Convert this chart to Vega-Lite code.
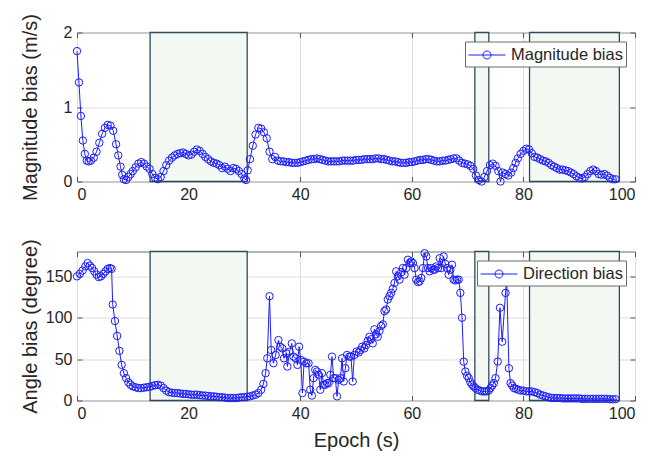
{
  "$schema": "https://vega.github.io/schema/vega-lite/v6.json",
  "background": "white",
  "padding": {"left": 19, "top": 12.5, "right": 5, "bottom": 5},
  "bounds": "flush",
  "spacing": 70,
  "config": {
    "font": "Liberation Sans",
    "view": {"stroke": "#6a6a6a", "strokeWidth": 1},
    "axis": {
      "labelFont": "Liberation Sans", "labelFontSize": 16, "labelColor": "#262626",
      "titleFont": "Liberation Sans", "titleFontSize": 20, "titleFontWeight": "normal", "titleColor": "#262626",
      "domain": false, "ticks": true, "tickSize": -5, "tickColor": "#555555", "tickWidth": 1,
      "labelPadding": 10, "labelOverlap": false,
      "gridColor": "#dedede", "gridWidth": 1
    }
  },
  "datasets": {
    "shade": [{"s": 13.1, "e": 30.5}, {"s": 71.3, "e": 73.8}, {"s": 81.1, "e": 97.2}],
    "mag": [
      {"t":0,"v":1.75},{"t":0.35,"v":1.33},{"t":0.7,"v":0.88},{"t":1.05,"v":0.55},{"t":1.4,"v":0.37},{"t":1.75,"v":0.28},
      {"t":2.1,"v":0.27},{"t":2.5,"v":0.28},{"t":3.0,"v":0.32},{"t":3.5,"v":0.40},{"t":4.0,"v":0.52},{"t":4.5,"v":0.64},
      {"t":5.0,"v":0.72},{"t":5.5,"v":0.76},{"t":6.0,"v":0.75},{"t":6.5,"v":0.68},{"t":7.0,"v":0.50},{"t":7.4,"v":0.35},
      {"t":7.8,"v":0.20},{"t":8.1,"v":0.09},{"t":8.4,"v":0.03},{"t":8.8,"v":0.02},{"t":9.2,"v":0.06},{"t":9.6,"v":0.10},
      {"t":10.0,"v":0.14},{"t":10.5,"v":0.19},{"t":11.0,"v":0.24},{"t":11.5,"v":0.26},{"t":12.0,"v":0.24},{"t":12.5,"v":0.20},
      {"t":13.0,"v":0.17},{"t":13.5,"v":0.10},{"t":14.0,"v":0.05},{"t":14.5,"v":0.03},{"t":15.0,"v":0.06},{"t":15.5,"v":0.14},
      {"t":16.0,"v":0.22},{"t":16.5,"v":0.28},{"t":17.0,"v":0.32},{"t":17.5,"v":0.35},{"t":18.0,"v":0.37},{"t":18.5,"v":0.38},
      {"t":19.0,"v":0.39},{"t":19.5,"v":0.37},{"t":20.0,"v":0.35},{"t":20.5,"v":0.36},{"t":21.0,"v":0.40},{"t":21.5,"v":0.43},
      {"t":22.0,"v":0.41},{"t":22.5,"v":0.37},{"t":23.0,"v":0.33},{"t":23.5,"v":0.30},{"t":24.0,"v":0.27},{"t":24.5,"v":0.25},
      {"t":25.0,"v":0.24},{"t":25.5,"v":0.22},{"t":26.0,"v":0.18},{"t":26.5,"v":0.20},{"t":27.0,"v":0.17},{"t":27.5,"v":0.14},
      {"t":28.0,"v":0.18},{"t":28.5,"v":0.17},{"t":29.0,"v":0.14},{"t":29.5,"v":0.10},{"t":30.0,"v":0.04},{"t":30.3,"v":0.02},
      {"t":30.6,"v":0.15},{"t":31.0,"v":0.30},{"t":31.5,"v":0.48},{"t":32.0,"v":0.63},{"t":32.5,"v":0.72},{"t":33.0,"v":0.71},
      {"t":33.5,"v":0.66},{"t":34.0,"v":0.58},{"t":34.5,"v":0.40},{"t":35.0,"v":0.30},{"t":35.5,"v":0.33},{"t":36.0,"v":0.28},
      {"t":36.5,"v":0.27},{"t":37.0,"v":0.27},{"t":37.5,"v":0.26},{"t":38.0,"v":0.26},{"t":38.5,"v":0.25},{"t":39.0,"v":0.25},
      {"t":39.5,"v":0.25},{"t":40.0,"v":0.26},{"t":40.5,"v":0.27},{"t":41.0,"v":0.28},{"t":41.5,"v":0.29},{"t":42.0,"v":0.30},
      {"t":42.5,"v":0.30},{"t":43.0,"v":0.31},{"t":43.5,"v":0.30},{"t":44.0,"v":0.29},{"t":44.5,"v":0.28},{"t":45.0,"v":0.27},
      {"t":45.5,"v":0.27},{"t":46.0,"v":0.27},{"t":46.5,"v":0.27},{"t":47.0,"v":0.27},{"t":47.5,"v":0.28},{"t":48.0,"v":0.28},
      {"t":48.5,"v":0.28},{"t":49.0,"v":0.28},{"t":49.5,"v":0.28},{"t":50.0,"v":0.29},{"t":50.5,"v":0.29},{"t":51.0,"v":0.29},
      {"t":51.5,"v":0.30},{"t":52.0,"v":0.30},{"t":52.5,"v":0.30},{"t":53.0,"v":0.30},{"t":53.5,"v":0.31},{"t":54.0,"v":0.31},
      {"t":54.5,"v":0.30},{"t":55.0,"v":0.30},{"t":55.5,"v":0.29},{"t":56.0,"v":0.28},{"t":56.5,"v":0.27},{"t":57.0,"v":0.27},
      {"t":57.5,"v":0.26},{"t":58.0,"v":0.25},{"t":58.5,"v":0.25},{"t":59.0,"v":0.25},{"t":59.5,"v":0.26},{"t":60.0,"v":0.26},
      {"t":60.5,"v":0.27},{"t":61.0,"v":0.28},{"t":61.5,"v":0.29},{"t":62.0,"v":0.29},{"t":62.5,"v":0.30},{"t":63.0,"v":0.30},
      {"t":63.5,"v":0.29},{"t":64.0,"v":0.28},{"t":64.5,"v":0.27},{"t":65.0,"v":0.27},{"t":65.5,"v":0.28},{"t":66.0,"v":0.28},
      {"t":66.5,"v":0.29},{"t":67.0,"v":0.30},{"t":67.5,"v":0.31},{"t":68.0,"v":0.31},{"t":68.5,"v":0.28},{"t":69.0,"v":0.25},
      {"t":69.5,"v":0.24},{"t":70.0,"v":0.23},{"t":70.5,"v":0.21},{"t":71.0,"v":0.17},{"t":71.5,"v":0.08},{"t":72.0,"v":0.02},
      {"t":72.5,"v":0.0},{"t":73.0,"v":0.06},{"t":73.5,"v":0.14},{"t":74.0,"v":0.22},{"t":74.5,"v":0.24},{"t":75.0,"v":0.21},
      {"t":75.5,"v":0.14},{"t":75.9,"v":0.0},{"t":76.3,"v":0.12},{"t":76.8,"v":0.10},{"t":77.3,"v":0.08},{"t":77.8,"v":0.12},
      {"t":78.2,"v":0.18},{"t":78.6,"v":0.25},{"t":79.0,"v":0.31},{"t":79.5,"v":0.37},{"t":80.0,"v":0.41},{"t":80.5,"v":0.44},
      {"t":81.0,"v":0.43},{"t":81.5,"v":0.38},{"t":82.0,"v":0.33},{"t":82.5,"v":0.32},{"t":83.0,"v":0.30},{"t":83.5,"v":0.28},
      {"t":84.0,"v":0.27},{"t":84.5,"v":0.25},{"t":85.0,"v":0.22},{"t":85.5,"v":0.20},{"t":86.0,"v":0.18},{"t":86.5,"v":0.16},
      {"t":87.0,"v":0.16},{"t":87.5,"v":0.15},{"t":88.0,"v":0.14},{"t":88.5,"v":0.12},{"t":89.0,"v":0.10},{"t":89.5,"v":0.07},
      {"t":90.0,"v":0.05},{"t":90.5,"v":0.04},{"t":91.0,"v":0.06},{"t":91.5,"v":0.10},{"t":92.0,"v":0.14},{"t":92.5,"v":0.16},
      {"t":93.0,"v":0.14},{"t":93.5,"v":0.10},{"t":94.0,"v":0.09},{"t":94.5,"v":0.10},{"t":95.0,"v":0.08},{"t":95.5,"v":0.05},
      {"t":96.0,"v":0.03},{"t":96.5,"v":0.03}
    ],
    "ang": [
      {"t":0,"v":150},{"t":0.5,"v":153},{"t":1.0,"v":157},{"t":1.5,"v":162},{"t":1.9,"v":166},{"t":2.3,"v":163},
      {"t":2.7,"v":160},{"t":3.1,"v":156},{"t":3.5,"v":152},{"t":3.9,"v":149},{"t":4.3,"v":150},{"t":4.7,"v":153},
      {"t":5.1,"v":156},{"t":5.5,"v":159},{"t":5.9,"v":160},{"t":6.2,"v":159},{"t":6.4,"v":116},{"t":6.8,"v":96},
      {"t":7.2,"v":78},{"t":7.6,"v":60},{"t":8.0,"v":43},{"t":8.4,"v":33},{"t":8.8,"v":27},{"t":9.2,"v":22},
      {"t":9.6,"v":19},{"t":10.0,"v":17},{"t":10.5,"v":16},{"t":11.0,"v":15},{"t":11.5,"v":15},{"t":12.0,"v":15.5},
      {"t":12.5,"v":16},{"t":13.0,"v":16.5},{"t":13.5,"v":17.5},{"t":14.0,"v":18.5},{"t":14.5,"v":19},{"t":15.0,"v":18},
      {"t":15.5,"v":15},{"t":16.0,"v":12},{"t":16.5,"v":10},{"t":17.0,"v":9.5},{"t":17.5,"v":9},{"t":18.0,"v":9},
      {"t":18.5,"v":8.5},{"t":19.0,"v":8},{"t":19.5,"v":8},{"t":20.0,"v":7.5},{"t":20.5,"v":7},{"t":21.0,"v":7},
      {"t":21.5,"v":7},{"t":22.0,"v":6.5},{"t":22.5,"v":6},{"t":23.0,"v":6},{"t":23.5,"v":5.5},{"t":24.0,"v":5},
      {"t":24.5,"v":5},{"t":25.0,"v":4.5},{"t":25.5,"v":4},{"t":26.0,"v":4},{"t":26.5,"v":3.5},{"t":27.0,"v":3},
      {"t":27.5,"v":3},{"t":28.0,"v":3},{"t":28.5,"v":3},{"t":29.0,"v":3.5},{"t":29.5,"v":4},{"t":30.0,"v":4},
      {"t":30.5,"v":4.5},{"t":31.0,"v":5},{"t":31.5,"v":6},{"t":32.0,"v":7},{"t":32.5,"v":9},{"t":33.0,"v":13},
      {"t":33.4,"v":20},{"t":33.8,"v":33},{"t":34.1,"v":51},{"t":34.5,"v":126},{"t":34.8,"v":61},{"t":35.2,"v":45},
      {"t":35.6,"v":55},{"t":36.1,"v":73},{"t":36.4,"v":65},{"t":36.8,"v":63},{"t":37.1,"v":51},{"t":37.5,"v":57},
      {"t":37.7,"v":41},{"t":38.1,"v":59},{"t":38.5,"v":69},{"t":38.8,"v":53},{"t":39.2,"v":51},{"t":39.5,"v":43},
      {"t":39.8,"v":65},{"t":40.1,"v":49},{"t":40.4,"v":9},{"t":40.7,"v":47},{"t":41.1,"v":45},{"t":41.5,"v":45},
      {"t":41.8,"v":13},{"t":42.1,"v":6},{"t":42.4,"v":27},{"t":42.7,"v":37},{"t":43.0,"v":35},{"t":43.3,"v":31},
      {"t":43.6,"v":13},{"t":43.9,"v":33},{"t":44.2,"v":19},{"t":44.5,"v":19},{"t":44.8,"v":21},{"t":45.1,"v":21},
      {"t":45.4,"v":31},{"t":45.7,"v":53},{"t":46.0,"v":27},{"t":46.3,"v":27},{"t":46.6,"v":5},{"t":46.9,"v":25},
      {"t":47.2,"v":27},{"t":47.5,"v":51},{"t":47.8,"v":23},{"t":48.1,"v":39},{"t":48.4,"v":55},{"t":48.8,"v":53},
      {"t":49.1,"v":53},{"t":49.4,"v":23},{"t":49.7,"v":55},{"t":50.1,"v":59},{"t":50.5,"v":58},{"t":50.8,"v":61},
      {"t":51.1,"v":65},{"t":51.5,"v":63},{"t":51.8,"v":67},{"t":52.1,"v":72},{"t":52.4,"v":77},{"t":52.7,"v":74},
      {"t":53.0,"v":69},{"t":53.3,"v":86},{"t":53.6,"v":80},{"t":53.9,"v":77},{"t":54.2,"v":84},{"t":54.5,"v":90},
      {"t":54.8,"v":92},{"t":55.1,"v":108},{"t":55.4,"v":110},{"t":55.7,"v":122},{"t":56.0,"v":126},{"t":56.3,"v":130},
      {"t":56.6,"v":135},{"t":56.9,"v":142},{"t":57.2,"v":156},{"t":57.5,"v":150},{"t":57.8,"v":146},{"t":58.1,"v":155},
      {"t":58.4,"v":160},{"t":58.7,"v":152},{"t":59.0,"v":160},{"t":59.3,"v":170},{"t":59.6,"v":166},{"t":59.9,"v":168},
      {"t":60.2,"v":166},{"t":60.5,"v":160},{"t":60.8,"v":146},{"t":61.1,"v":143},{"t":61.4,"v":144},{"t":61.7,"v":148},
      {"t":62.0,"v":160},{"t":62.3,"v":178},{"t":62.6,"v":174},{"t":62.9,"v":160},{"t":63.2,"v":156},{"t":63.5,"v":160},
      {"t":63.8,"v":158},{"t":64.1,"v":158},{"t":64.4,"v":162},{"t":64.7,"v":160},{"t":65.0,"v":172},{"t":65.3,"v":160},
      {"t":65.7,"v":174},{"t":66.0,"v":165},{"t":66.3,"v":160},{"t":66.6,"v":152},{"t":66.9,"v":158},{"t":67.2,"v":164},
      {"t":67.5,"v":146},{"t":67.8,"v":145},{"t":68.1,"v":146},{"t":68.4,"v":146},{"t":68.7,"v":130},{"t":69.0,"v":100},
      {"t":69.3,"v":47},{"t":69.6,"v":35},{"t":69.9,"v":30},{"t":70.2,"v":27},{"t":70.5,"v":22},{"t":70.8,"v":19},
      {"t":71.1,"v":17},{"t":71.4,"v":15},{"t":71.8,"v":13},{"t":72.2,"v":12},{"t":72.6,"v":11},{"t":73.0,"v":11},
      {"t":73.4,"v":11},{"t":73.8,"v":12},{"t":74.1,"v":15},{"t":74.4,"v":18},{"t":74.7,"v":21},{"t":75.0,"v":27},
      {"t":75.4,"v":47},{"t":75.8,"v":112},{"t":76.2,"v":71},{"t":76.8,"v":130},{"t":77.0,"v":150},{"t":77.4,"v":39},
      {"t":77.7,"v":21},{"t":78.0,"v":18},{"t":78.3,"v":15},{"t":78.7,"v":14},{"t":79.1,"v":13},{"t":79.5,"v":12},
      {"t":80.0,"v":12},{"t":80.5,"v":11},{"t":81.0,"v":11},{"t":81.5,"v":11},{"t":82.0,"v":10},{"t":82.5,"v":9},
      {"t":83.0,"v":7},{"t":83.5,"v":6},{"t":84.0,"v":5},{"t":84.5,"v":4},{"t":85.0,"v":3},{"t":85.5,"v":3},
      {"t":86.0,"v":3},{"t":86.5,"v":3},{"t":87.0,"v":2.5},{"t":87.5,"v":2.5},{"t":88.0,"v":2.5},{"t":88.5,"v":2.5},
      {"t":89.0,"v":2.5},{"t":89.5,"v":2.5},{"t":90.0,"v":2.5},{"t":90.5,"v":2},{"t":91.0,"v":2},{"t":91.5,"v":2},
      {"t":92.0,"v":2},{"t":92.5,"v":2},{"t":93.0,"v":2},{"t":93.5,"v":2},{"t":94.0,"v":2},{"t":94.5,"v":2},
      {"t":95.0,"v":2},{"t":95.5,"v":1.5},{"t":96.0,"v":1.5},{"t":96.5,"v":1.5}
    ]
  },
  "resolve": {"scale": {"color": "independent"}, "legend": {"color": "independent"}},
  "vconcat": [
    {
      "width": 558, "height": 149,
      "resolve": {"axis": {"x": "independent", "y": "independent"}},
      "layer": [
        {
          "data": {"name": "shade"},
          "mark": {"type": "rect", "fill": "#f3f8f3", "stroke": "#2e4a5c", "strokeWidth": 1.3},
          "encoding": {
            "x": {"field": "s", "type": "quantitative", "scale": {"domain": [0, 100], "nice": false},
                  "axis": {"orient": "top", "values": [0, 20, 40, 60, 80, 100], "title": null, "labels": false, "grid": false}},
            "x2": {"field": "e"}
          }
        },
        {
          "data": {"name": "shade"},
          "mark": {"type": "rule", "opacity": 0},
          "encoding": {
            "y": {"datum": 0, "type": "quantitative",
                  "axis": {"orient": "right", "values": [0, 1, 2], "title": null, "labels": false, "grid": false}}
          }
        },
        {
          "data": {"name": "mag"},
          "mark": {"type": "line", "strokeWidth": 1, "point": {"filled": false, "size": 55, "strokeWidth": 1}},
          "encoding": {
            "x": {"field": "t", "type": "quantitative",
                  "axis": {"orient": "bottom", "values": [0, 20, 40, 60, 80, 100], "title": null, "grid": true}},
            "y": {"field": "v", "type": "quantitative", "scale": {"domain": [0, 2], "nice": false},
                  "axis": {"orient": "left", "values": [0, 1, 2], "format": ".0f", "title": "Magnitude bias (m/s)", "grid": true,
                           "titleX": -41, "titleY": 74.5, "titleAngle": -90, "titleAlign": "center", "titleBaseline": "alphabetic"}},
            "color": {"datum": "Magnitude bias", "type": "nominal", "scale": {"range": ["#1c1cff"]},
                      "legend": {"title": null, "orient": "top-right", "offset": 9, "fillColor": "white", "strokeColor": "#6a6a6a",
                                 "padding": 3, "labelFontSize": 16.5, "labelColor": "#262626", "labelFont": "Liberation Sans",
                                 "symbolType": "M-1,0H2.7M1.25,0A0.4,0.4,0,1,1,0.45,0A0.4,0.4,0,1,1,1.25,0",
                                 "symbolSize": 400, "symbolStrokeWidth": 1, "labelOffset": 22,
                                 "encode": {"symbols": {"update": {"fill": {"value": "transparent"}, "stroke": {"value": "#1c1cff"}}}}}}
          }
        }
      ]
    },
    {
      "width": 558, "height": 149,
      "resolve": {"axis": {"x": "independent", "y": "independent"}},
      "layer": [
        {
          "data": {"name": "shade"},
          "mark": {"type": "rect", "fill": "#f3f8f3", "stroke": "#2e4a5c", "strokeWidth": 1.3},
          "encoding": {
            "x": {"field": "s", "type": "quantitative", "scale": {"domain": [0, 100], "nice": false},
                  "axis": {"orient": "top", "values": [0, 20, 40, 60, 80, 100], "title": null, "labels": false, "grid": false}},
            "x2": {"field": "e"}
          }
        },
        {
          "data": {"name": "shade"},
          "mark": {"type": "rule", "opacity": 0},
          "encoding": {
            "y": {"datum": 0, "type": "quantitative",
                  "axis": {"orient": "right", "values": [0, 50, 100, 150], "title": null, "labels": false, "grid": false}}
          }
        },
        {
          "data": {"name": "ang"},
          "mark": {"type": "line", "strokeWidth": 1, "point": {"filled": false, "size": 55, "strokeWidth": 1}},
          "encoding": {
            "x": {"field": "t", "type": "quantitative",
                  "axis": {"orient": "bottom", "values": [0, 20, 40, 60, 80, 100], "title": "Epoch (s)", "grid": true,
                           "titleY": 46, "titleBaseline": "alphabetic"}},
            "y": {"field": "v", "type": "quantitative", "scale": {"domain": [0, 180], "nice": false},
                  "axis": {"orient": "left", "values": [0, 50, 100, 150], "title": "Angle bias (degree)", "grid": true,
                           "titleX": -41, "titleY": 74.5, "titleAngle": -90, "titleAlign": "center", "titleBaseline": "alphabetic"}},
            "color": {"datum": "Direction bias", "type": "nominal", "scale": {"range": ["#1c1cff"]},
                      "legend": {"title": null, "orient": "top-right", "offset": 9, "fillColor": "white", "strokeColor": "#6a6a6a",
                                 "padding": 3, "labelFontSize": 16.5, "labelColor": "#262626", "labelFont": "Liberation Sans",
                                 "symbolType": "M-1,0H2.7M1.25,0A0.4,0.4,0,1,1,0.45,0A0.4,0.4,0,1,1,1.25,0",
                                 "symbolSize": 400, "symbolStrokeWidth": 1, "labelOffset": 22,
                                 "encode": {"symbols": {"update": {"fill": {"value": "transparent"}, "stroke": {"value": "#1c1cff"}}}}}}
          }
        }
      ]
    }
  ]
}
